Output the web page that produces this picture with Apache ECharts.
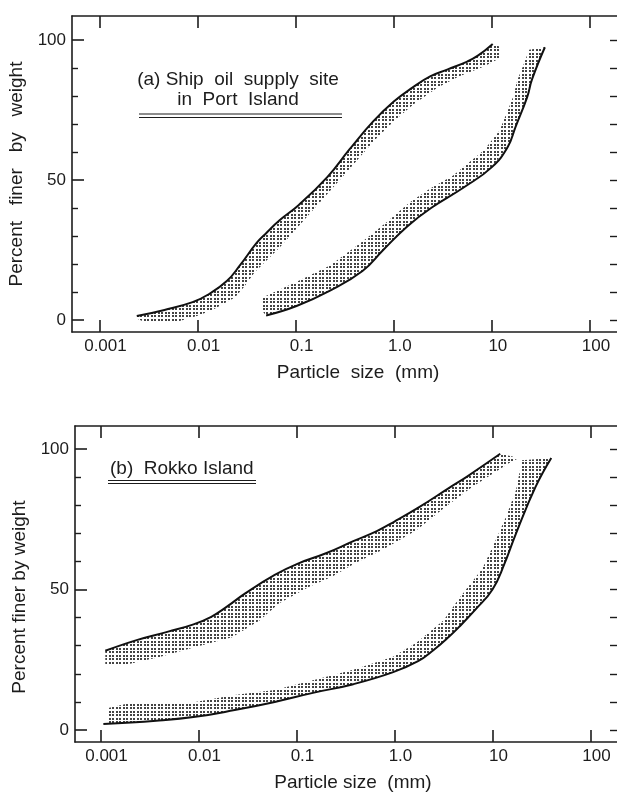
<!DOCTYPE html>
<html>
<head>
<meta charset="utf-8">
<script src="https://cdn.jsdelivr.net/npm/echarts@6/dist/echarts.min.js"></script>
<style>
html,body{margin:0;padding:0;background:#fff;}
#chart{width:617px;height:796px;}
</style>
</head>
<body>
<div id="chart"></div>
<script>
// ---- tick values and labels ----
const xTickValues = [0.001, 0.01, 0.1, 1, 10, 100];
const xTickLabels = ['0.001', '0.01', '0.1', '1.0', '10', '100'];
const yLabelValues = [0, 50, 100];
const yMinorValues = [10, 20, 30, 40, 60, 70, 80, 90];
const yRightValues = [0, 10, 20, 30, 40, 50, 60, 70, 80, 90, 100];

// ---- (a) Ship oil supply site in Port Island : [particle size mm, percent finer] ----
const aFineLine = [[0.0024,1.4],[0.0046,3.6],[0.0089,6.4],[0.013,9.2],[0.020,14],[0.027,19.5],[0.040,27.5],[0.050,31],[0.069,35.7],[0.107,41],[0.21,51],[0.355,61],[0.62,71],[1.0,78],[1.55,83],[2.35,87],[3.55,89.5],[5.6,92.3],[7.2,94.4],[10.2,98.6]];
const aFineBand = [[12.3,97.5],[12.0,93.5],[8.3,90.5],[4.6,87],[2.8,83],[1.58,77],[1.0,71],[0.63,64],[0.355,54],[0.21,45],[0.117,35],[0.069,26],[0.038,17],[0.030,12],[0.024,8],[0.014,3.5],[0.010,1.5],[0.0063,-0.5],[0.0028,-0.5],[0.0024,0.5]];
const aCoarseLine = [[0.050,1.6],[0.102,5],[0.224,10.5],[0.48,17.5],[0.78,25],[1.38,33.5],[2.4,40],[5.25,47.5],[10,54.6],[14.5,61.8],[17.4,68.9],[22.9,79.6],[25.7,86],[34.7,97.4]];
const aCoarseBand = [[24,96.5],[20.4,90],[18.2,85.7],[16.6,80],[14.5,74.8],[12.0,67.7],[8.3,60.6],[4.0,51.5],[2.35,47],[1.45,42],[0.85,35],[0.48,28],[0.224,19.5],[0.10,13.5],[0.046,8],[0.045,3.5]];

// ---- (b) Rokko Island ----
const bFineLine = [[0.00112,28.2],[0.00234,32],[0.0049,35],[0.0089,37.6],[0.0135,40.3],[0.0195,43.9],[0.030,48.6],[0.060,55.2],[0.105,59.3],[0.20,62.9],[0.38,67.2],[0.66,70.8],[1.0,74.2],[1.82,79.5],[3.55,86],[5.5,90.2],[12.0,98.3]];
const bFineBand = [[18.6,96.8],[14.8,95],[10.7,91.8],[6.2,86.5],[3.3,79.4],[1.66,71],[0.74,64],[0.40,59.4],[0.23,54.5],[0.135,51],[0.066,45],[0.042,39],[0.022,33],[0.0093,29.5],[0.0040,26],[0.00195,23.5],[0.00112,23.5]];
const bCoarseLine = [[0.00107,2.1],[0.0037,3.3],[0.0093,4.7],[0.0234,7.1],[0.060,10],[0.151,13.3],[0.38,16.3],[0.955,20.5],[1.74,24.5],[2.51,28.5],[3.55,33],[4.57,36.7],[6.76,43],[10,50],[13.2,59],[17.4,70],[27.5,86.5],[39.8,96.8]];
const bCoarseBand = [[20,96],[17.4,85.4],[13.8,76],[10,65],[7.9,57.5],[4.6,47],[3.16,39],[1.66,31],[0.955,26],[0.38,21.4],[0.151,17.8],[0.060,14.2],[0.0234,12.5],[0.0093,10],[0.00195,9.5],[0.00117,7.7],[0.00117,2.5]];

const FONT = "'Liberation Sans', Arial, Helvetica, sans-serif";
const INK = '#1c1c1c';

function dotPattern() {
  const c = document.createElement('canvas');
  c.width = 7; c.height = 7;
  const ctx = c.getContext('2d');
  ctx.fillStyle = '#444';
  [[0,0],[4,0],[0,4],[4,4]].forEach(p => ctx.fillRect(p[0], p[1], 2, 2));
  return {image: c, repeat: 'repeat'};
}
const pattern = dotPattern();

const panels = [
  {grid: {left: 72, top: 16, width: 552, height: 316}, xMin: Math.pow(10, -3.280), xMax: Math.pow(10, -3.280 + 552 / 98.1), yMin: -4.29, yMax: 108.57,
   yName: 'Percent   finer   by   weight', xName: 'Particle  size  (mm)', xNamePad: [0, 0, 0, 20], yNamePad: [0, 0, 0, 0],
   lines: [aFineLine, aCoarseLine], bands: [[aFineLine, aFineBand], [aCoarseLine, aCoarseBand]]},
  {grid: {left: 75, top: 426, width: 549, height: 316}, xMin: Math.pow(10, -3.260), xMax: Math.pow(10, -3.260 + 549 / 98), yMin: -4.27, yMax: 108.19,
   yName: 'Percent finer by weight', xName: 'Particle size  (mm)', xNamePad: [0, 0, 0, 7], yNamePad: [0, 26, 0, 0],
   lines: [bFineLine, bCoarseLine], bands: [[bFineLine, bFineBand], [bCoarseLine, bCoarseBand]]}
];

const axisLineStyle = {color: INK, width: 1.6};
const grids = [], xAxes = [], yAxes = [], series = [];
panels.forEach((p, g) => {
  grids.push(Object.assign({outerBoundsMode: 'none', containLabel: false}, p.grid));
  const xi = xAxes.length;
  xAxes.push({
    gridIndex: g, type: 'log', logBase: 10, min: p.xMin, max: p.xMax, position: 'bottom',
    axisLine: {show: true, onZero: false, lineStyle: axisLineStyle},
    axisTick: {show: true, inside: true, length: 12, customValues: xTickValues, lineStyle: {color: INK, width: 1.6}},
    axisLabel: {show: true, customValues: xTickValues, margin: 6, fontSize: 17, fontFamily: FONT, color: INK, padding: [0, 0, 0, 12],
      formatter: v => xTickLabels[Math.round(Math.log10(v)) + 3]},
    splitLine: {show: false}, minorTick: {show: false},
    name: p.xName, nameLocation: 'middle', nameGap: 31,
    nameTextStyle: {fontSize: 19, fontFamily: FONT, color: INK, padding: p.xNamePad}
  });
  xAxes.push({
    gridIndex: g, type: 'log', logBase: 10, min: p.xMin, max: p.xMax, position: 'top',
    axisLine: {show: true, onZero: false, lineStyle: axisLineStyle},
    axisTick: {show: true, inside: true, length: 12, customValues: xTickValues, lineStyle: {color: INK, width: 1.6}},
    axisLabel: {show: false}, splitLine: {show: false}
  });
  const yi = yAxes.length;
  yAxes.push({
    gridIndex: g, type: 'value', min: p.yMin, max: p.yMax, position: 'left',
    axisLine: {show: true, onZero: false, lineStyle: axisLineStyle},
    axisTick: {show: true, inside: true, length: 12, customValues: yLabelValues, lineStyle: {color: INK, width: 1.6}},
    axisLabel: {show: true, customValues: yLabelValues, margin: 6, fontSize: 17, fontFamily: FONT, color: INK},
    splitLine: {show: false},
    name: p.yName, nameLocation: 'middle', nameGap: 36, nameRotate: 90,
    nameTextStyle: {fontSize: 19, fontFamily: FONT, color: INK, padding: p.yNamePad}
  });
  yAxes.push({
    gridIndex: g, type: 'value', min: p.yMin, max: p.yMax, position: 'left',
    axisLine: {show: false, onZero: false},
    axisTick: {show: true, inside: true, length: 6, customValues: yMinorValues, lineStyle: {color: INK, width: 1.4}},
    axisLabel: {show: false}, splitLine: {show: false}
  });
  yAxes.push({
    gridIndex: g, type: 'value', min: p.yMin, max: p.yMax, position: 'right',
    axisLine: {show: true, onZero: false, lineStyle: axisLineStyle},
    axisTick: {show: true, inside: true, length: 14, customValues: yRightValues, lineStyle: {color: INK, width: 1.4}},
    axisLabel: {show: false}, splitLine: {show: false}
  });
  p.bands.forEach(pair => {
    const poly = pair[0].concat(pair[1]);
    series.push({
      type: 'custom', xAxisIndex: xi, yAxisIndex: yi, data: [pair[0][0]], silent: true, z: 1,
      encode: {x: 0, y: 1},
      renderItem: (params, api) => ({
        type: 'polygon',
        shape: {points: poly.map(pt => api.coord(pt)), smooth: 0},
        style: {fill: pattern, stroke: null}
      })
    });
  });
  p.lines.forEach(l => {
    series.push({
      type: 'line', xAxisIndex: xi, yAxisIndex: yi, data: l, showSymbol: false, symbol: 'none',
      smooth: 0.45, z: 3, silent: true,
      lineStyle: {color: '#111', width: 2}
    });
  });
});

const chart = echarts.init(document.getElementById('chart'), null, {renderer: 'canvas'});
chart.setOption({
  animation: false,
  backgroundColor: '#fff',
  grid: grids, xAxis: xAxes, yAxis: yAxes, series: series,
  graphic: [
    {type: 'text', x: 238, y: 80, style: {text: '(a) Ship  oil  supply  site', x: 0, y: 0, align: 'center', verticalAlign: 'middle', font: '19px ' + FONT, fill: INK}},
    {type: 'text', x: 238, y: 100, style: {text: 'in  Port  Island', x: 0, y: 0, align: 'center', verticalAlign: 'middle', font: '19px ' + FONT, fill: INK}},
    {type: 'line', shape: {x1: 139, y1: 114, x2: 342, y2: 114}, style: {stroke: INK, lineWidth: 1.2}},
    {type: 'line', shape: {x1: 139, y1: 117.5, x2: 342, y2: 117.5}, style: {stroke: INK, lineWidth: 1.2}},
    {type: 'text', x: 110, y: 469, style: {text: '(b)  Rokko Island', x: 0, y: 0, align: 'left', verticalAlign: 'middle', font: '19px ' + FONT, fill: INK}},
    {type: 'line', shape: {x1: 108, y1: 480.5, x2: 256, y2: 480.5}, style: {stroke: INK, lineWidth: 1.2}},
    {type: 'line', shape: {x1: 108, y1: 483.5, x2: 256, y2: 483.5}, style: {stroke: INK, lineWidth: 1.2}}
  ]
});
</script>
</body>
</html>
